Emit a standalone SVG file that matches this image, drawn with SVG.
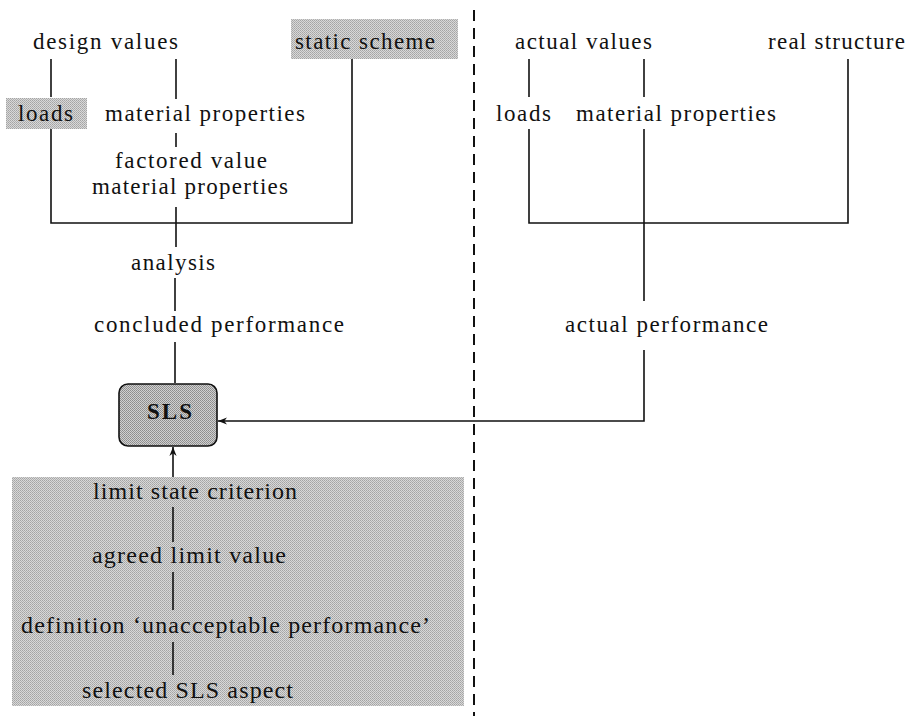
<svg xmlns="http://www.w3.org/2000/svg" width="907" height="716" viewBox="0 0 907 716">
<style>
text{font-family:"Liberation Serif","Times New Roman",serif;font-size:23px;fill:#111}
.big{font-size:24px}
.bold{font-weight:bold;font-size:23px}
.ln{stroke:#111;stroke-width:1.6;fill:none}
.dash{stroke:#111;stroke-width:2;stroke-dasharray:11 7;fill:none}
.gray{fill:url(#dither)}
.dark{fill:url(#dither2)}
</style>
<defs>
<pattern id="dither" width="2" height="2" patternUnits="userSpaceOnUse">
<rect width="2" height="2" fill="#d8d8d8"/>
<rect width="1" height="1" fill="#a4a4a4"/>
<rect x="1" y="1" width="1" height="1" fill="#b0b0b0"/>
</pattern>
<pattern id="dither2" width="2" height="2" patternUnits="userSpaceOnUse">
<rect width="2" height="2" fill="#d0d0d0"/>
<rect width="1" height="1" fill="#8c8c8c"/>
<rect x="1" y="1" width="1" height="1" fill="#969696"/>
</pattern>
<marker id="arr" viewBox="0 0 10 10" refX="10" refY="5" markerWidth="9" markerHeight="9" markerUnits="userSpaceOnUse" orient="auto">
<path d="M0,1 L10,5 L0,9 L3,5 Z" fill="#111"/>
</marker>
</defs>

<g id="criterion-box">
<rect class="gray" x="12" y="477" width="452" height="229"/>
</g>

<g id="connectors">
<line class="dash" x1="474" y1="10" x2="474" y2="716"/>
<line class="ln" x1="51" y1="59" x2="51" y2="97"/>
<polyline class="ln" points="51,129 51,223 352,223 352,59"/>
<line class="ln" x1="176" y1="59" x2="176" y2="99"/>
<line class="ln" x1="176" y1="133" x2="176" y2="147"/>
<line class="ln" x1="176" y1="207" x2="176" y2="247"/>
<line class="ln" x1="175" y1="278" x2="175" y2="311"/>
<line class="ln" x1="175" y1="342" x2="175" y2="383"/>
<line class="ln" x1="529" y1="59" x2="529" y2="97"/>
<polyline class="ln" points="529,129 529,223 848,223 848,59"/>
<line class="ln" x1="644" y1="59" x2="644" y2="97"/>
<line class="ln" x1="644" y1="129" x2="644" y2="301"/>
<polyline class="ln" points="644,350 644,421 218,421" marker-end="url(#arr)"/>
<line class="ln" x1="173" y1="477" x2="173" y2="447" marker-end="url(#arr)"/>
<line class="ln" x1="173" y1="507" x2="173" y2="542"/>
<line class="ln" x1="173" y1="572" x2="173" y2="610"/>
<line class="ln" x1="173" y1="642" x2="173" y2="675"/>
</g>

<g id="design-values"><text x="33" y="49" textLength="145" lengthAdjust="spacing">design values</text></g>
<g id="static-scheme"><rect class="gray" x="291" y="19" width="167" height="40"/><text x="295" y="49" textLength="140" lengthAdjust="spacing">static scheme</text></g>
<g id="loads-design"><rect class="gray" x="6" y="98" width="81" height="31"/><text x="18" y="121" textLength="55" lengthAdjust="spacing">loads</text></g>
<g id="material-design"><text x="105" y="121" textLength="200" lengthAdjust="spacing">material properties</text></g>
<g id="factored"><text x="115" y="168" textLength="152" lengthAdjust="spacing">factored value</text><text x="92" y="194" textLength="196" lengthAdjust="spacing">material properties</text></g>
<g id="analysis"><text x="131" y="270" textLength="84" lengthAdjust="spacing">analysis</text></g>
<g id="concluded"><text x="94" y="332" textLength="250" lengthAdjust="spacing">concluded performance</text></g>
<g id="sls"><rect class="dark" x="119" y="384" width="98" height="62" rx="9" stroke="#111" stroke-width="1.6"/><text class="bold" x="147" y="419" textLength="45" lengthAdjust="spacing">SLS</text></g>

<g id="actual-values"><text x="515" y="49" textLength="137" lengthAdjust="spacing">actual values</text></g>
<g id="real-structure"><text x="768" y="49" textLength="137" lengthAdjust="spacing">real structure</text></g>
<g id="loads-actual"><text x="496" y="121" textLength="55" lengthAdjust="spacing">loads</text></g>
<g id="material-actual"><text x="576" y="121" textLength="200" lengthAdjust="spacing">material properties</text></g>
<g id="actual-performance"><text x="565" y="332" textLength="203" lengthAdjust="spacing">actual performance</text></g>

<g id="limit-state"><text class="big" x="93" y="499" textLength="204" lengthAdjust="spacing">limit state criterion</text></g>
<g id="agreed-limit"><text class="big" x="92" y="563" textLength="194" lengthAdjust="spacing">agreed limit value</text></g>
<g id="definition"><text class="big" x="21" y="633" textLength="409" lengthAdjust="spacing">definition ‘unacceptable performance’</text></g>
<g id="selected"><text class="big" x="82" y="698" textLength="211" lengthAdjust="spacing">selected SLS aspect</text></g>
</svg>
